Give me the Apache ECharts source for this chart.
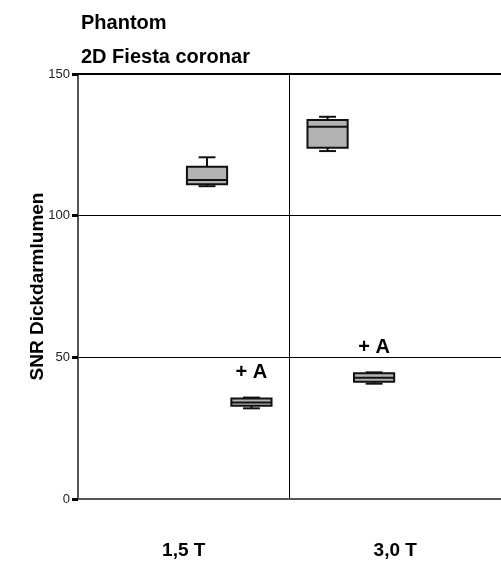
<!DOCTYPE html>
<html><head><meta charset="utf-8">
<script src="https://cdn.jsdelivr.net/npm/echarts@6/dist/echarts.min.js"></script>
<style>html,body{margin:0;padding:0;background:#fff}#c{width:501px;height:565px}</style>
</head><body><div id="c"></div>
<script>
// ---- data ----
const categories = ['1,5 T', '3,0 T'];
// each row: [min, Q1, median, Q3, max]
const phantom = [[110.4, 111.1, 112.6, 117.3, 120.6], [122.8, 124.0, 131.4, 133.8, 134.9]];
const phantomA = [[32.0, 32.9, 34.1, 35.5, 35.8], [40.7, 41.4, 42.8, 44.4, 44.7]];
const annotationA = '+ A';
const yMin = 0, yMax = 150, yInterval = 50;
const titleLines = ['Phantom', '2D Fiesta coronar'];
const yName = 'SNR Dickdarmlumen';

// ---- layout / style ----
const FONT = '"Liberation Sans", Arial, sans-serif';
const offsetsPhantom = [0.11, -0.32];
const offsetsPhantomA = [0.32, -0.10];

function makeRender(offsets, label) {
  return function (params, api) {
    const ci = api.value(0);
    const mn = api.value(1), q1 = api.value(2), md = api.value(3), q3 = api.value(4), mx = api.value(5);
    const band = api.size([1, 0])[0];
    const cx = api.coord([ci, md])[0] + offsets[ci] * band;
    const y = v => api.coord([ci, v])[1];
    const bw = 0.19 * band, cw = 0.08 * band;
    const ls = { stroke: '#111', lineWidth: 2 };
    const ch = [
      { type: 'line', shape: { x1: cx, y1: y(mx), x2: cx, y2: y(q3) }, style: ls },
      { type: 'line', shape: { x1: cx - cw / 2, y1: y(mx), x2: cx + cw / 2, y2: y(mx) }, style: ls },
      { type: 'line', shape: { x1: cx, y1: y(mn), x2: cx, y2: y(q1) }, style: ls },
      { type: 'line', shape: { x1: cx - cw / 2, y1: y(mn), x2: cx + cw / 2, y2: y(mn) }, style: ls },
      { type: 'rect', shape: { x: cx - bw / 2, y: y(q3), width: bw, height: y(q1) - y(q3) },
        style: { fill: '#b3b3b3', stroke: '#111', lineWidth: 2 } },
      { type: 'line', shape: { x1: cx - bw / 2, y1: y(md), x2: cx + bw / 2, y2: y(md) }, style: ls }
    ];
    if (label) {
      ch.push({ type: 'text', style: { text: label, x: cx, y: y(mx) - 15, align: 'center', verticalAlign: 'bottom',
        font: 'bold 20px ' + FONT, fill: '#000' } });
    }
    return { type: 'group', children: ch };
  };
}

const chart = echarts.init(document.getElementById('c'), null, { renderer: 'canvas' });
chart.setOption({
  animation: false,
  backgroundColor: '#fff',
  title: {
    text: titleLines.join('\n'), left: 76, top: 1,
    textStyle: { fontFamily: FONT, fontSize: 20, fontWeight: 'bold', color: '#000', lineHeight: 34 }
  },
  grid: { left: 78, right: -1, top: 74, bottom: 66 },
  xAxis: [{
    type: 'category', data: categories, boundaryGap: true,
    axisLine: { lineStyle: { color: '#555', width: 2 } },
    axisTick: { alignWithLabel: true, length: 8, lineStyle: { color: '#000', width: 3 } },
    axisLabel: { margin: 42, fontFamily: FONT, fontSize: 19, fontWeight: 'bold', color: '#000' },
    splitLine: { show: true, lineStyle: { color: '#000', width: 1 } }
  }, {
    type: 'category', data: categories, position: 'top',
    axisLine: { lineStyle: { color: '#000', width: 2 } },
    axisTick: { show: false }, axisLabel: { show: false }, splitLine: { show: false }
  }],
  yAxis: {
    type: 'value', min: yMin, max: yMax, interval: yInterval,
    name: yName, nameLocation: 'middle', nameGap: 31, nameMoveOverlap: false,
    nameTextStyle: { fontFamily: FONT, fontSize: 19, fontWeight: 'bold', color: '#000' },
    axisLine: { show: true, lineStyle: { color: '#555', width: 2 } },
    axisTick: { show: true, length: 6, lineStyle: { color: '#000', width: 3 } },
    axisLabel: { margin: 8, fontFamily: FONT, fontSize: 13, color: '#222' },
    splitLine: { show: true, lineStyle: { color: '#000', width: 1 } }
  },
  series: [{
    type: 'custom', name: 'Phantom', renderItem: makeRender(offsetsPhantom, null),
    encode: { x: 0, y: [1, 2, 3, 4, 5] },
    data: phantom.map((d, i) => [i].concat(d))
  }, {
    type: 'custom', name: 'Phantom + A', renderItem: makeRender(offsetsPhantomA, annotationA),
    encode: { x: 0, y: [1, 2, 3, 4, 5] },
    data: phantomA.map((d, i) => [i].concat(d))
  }]
});
</script>
</body></html>
